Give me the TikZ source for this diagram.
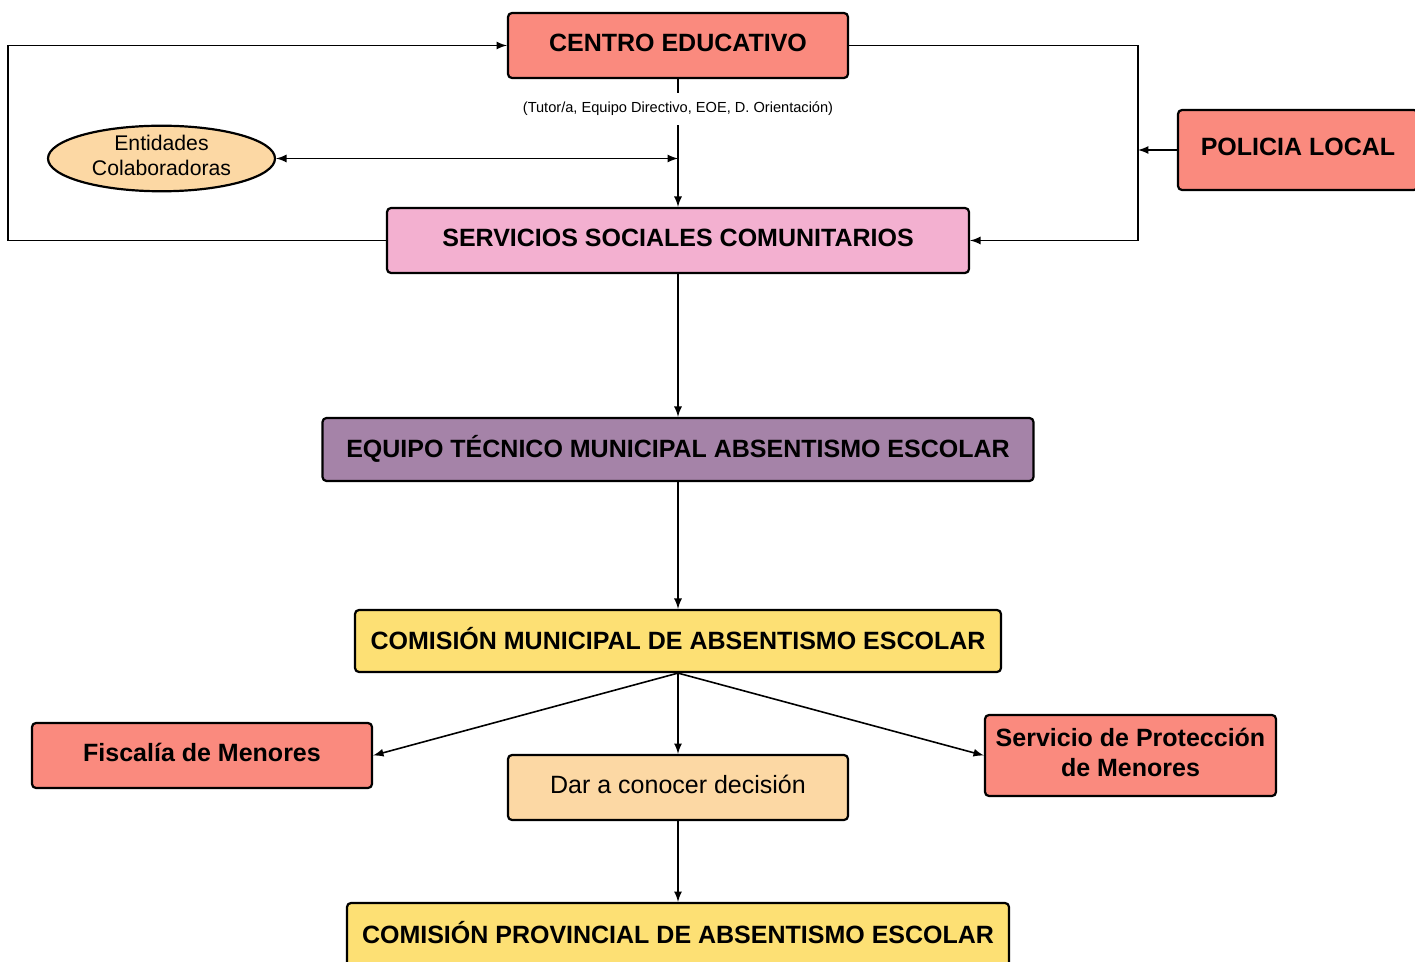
\documentclass[tikz,border=0pt]{standalone}
\usepackage{fontspec}
\setmainfont{Liberation Sans}
\usetikzlibrary{arrows,shapes.geometric}

\definecolor{salmon}{HTML}{FA8A7E}
\definecolor{rosa}{HTML}{F3B0D0}
\definecolor{malva}{HTML}{A583A8}
\definecolor{amarillo}{HTML}{FDE074}
\definecolor{crema}{HTML}{FCD8A4}

\tikzset{
  caja/.style={draw, line width=1.1pt, rounded corners=2pt, align=center, inner sep=2pt, text depth=3pt},
  titulo/.style={caja, font=\bfseries\fontsize{12.5}{15}\selectfont},
  flecha/.style={-latex, line width=0.8pt}
}

\begin{document}
\begin{tikzpicture}[x=0.5pt, y=-0.5pt]
  \useasboundingbox (0,0) rectangle (1415,962);
  % cajas
  \node[titulo, fill=salmon, minimum width=170pt, minimum height=32.5pt] (ce) at (678,45.5) {CENTRO EDUCATIVO};
  \node[font=\fontsize{7.3}{8}\selectfont, inner sep=0pt, minimum height=16pt] (lab) at (678,109) {(Tutor/a, Equipo Directivo, EOE, D. Orientación)};
  \node[ellipse, draw, line width=1.1pt, fill=crema, minimum width=113.5pt, minimum height=32.5pt, inner sep=0pt, align=center,
        text depth=3pt, font=\fontsize{10.6}{12.5}\selectfont] (ent) at (161.5,158.5) {Entidades\\Colaboradoras};
  \coordinate (jn) at (678,158.5);
  \node[titulo, fill=rosa, minimum width=291pt, minimum height=32.5pt] (ssc) at (678,240.5) {SERVICIOS SOCIALES COMUNITARIOS};
  \node[titulo, fill=salmon, minimum width=120pt, minimum height=40pt] (pol) at (1298,150) {POLICIA LOCAL};
  \coordinate (izq) at (8,45.5);
  \coordinate (der) at (1138,240.5);
  \node[titulo, fill=malva, minimum width=355.5pt, minimum height=31.5pt] (etm) at (678,449.5) {EQUIPO TÉCNICO MUNICIPAL ABSENTISMO ESCOLAR};
  \node[titulo, fill=amarillo, minimum width=323pt, minimum height=31pt] (cm) at (678,641) {COMISIÓN MUNICIPAL DE ABSENTISMO ESCOLAR};
  \node[titulo, fill=salmon, minimum width=170pt, minimum height=32.5pt] (fis) at (202,755.5) {Fiscalía de Menores};
  \node[caja, fill=crema, minimum width=170pt, minimum height=32.5pt, font=\fontsize{12.5}{15}\selectfont] (dar) at (678,787.5) {Dar a conocer decisión};
  \node[titulo, fill=salmon, minimum width=145.5pt, minimum height=40.5pt] (spm) at (1130.5,755.5) {Servicio de Protección\\de Menores};
  \node[titulo, fill=amarillo, minimum width=331pt, minimum height=32pt] (cp) at (678,935) {COMISIÓN PROVINCIAL DE ABSENTISMO ESCOLAR};

  % conexiones
  \draw[line width=0.8pt] (ce) -- (lab);
  \draw[flecha] (lab) -- (ssc);
  \draw[flecha, latex-latex] (ent) -- (jn);
  \draw[flecha] (ssc.west) -| (izq) -- (ce.west);
  \draw[flecha] (ce.east) -| (der) -- (ssc.east);
  \draw[flecha] (pol.west) -- (pol.west -| der);
  \path[flecha]
  (ssc) edge (etm)
  (etm) edge (cm)
  (cm.south) edge (fis.east)
  edge (dar)
  edge (spm.west)
  (dar) edge (cp);
\end{tikzpicture}
\end{document}
